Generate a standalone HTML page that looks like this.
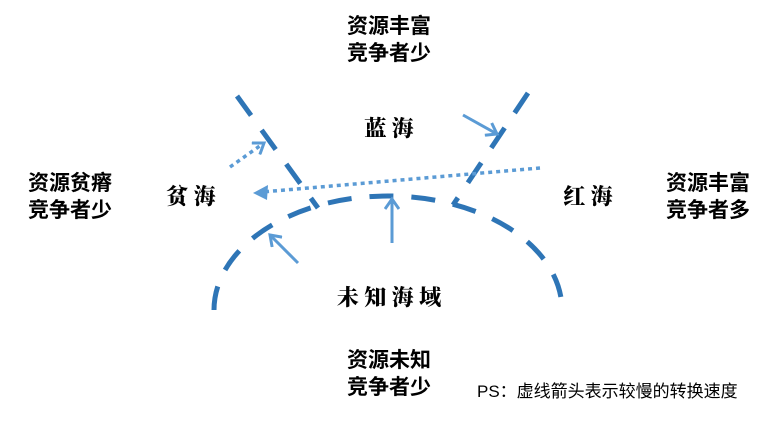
<!DOCTYPE html>
<html><head><meta charset="utf-8"><style>
html,body{margin:0;padding:0;background:#fff;}
body{width:780px;height:420px;overflow:hidden;}
svg text{font-family:"Liberation Sans","Noto Sans CJK SC",sans-serif;}
.b{font-weight:bold;font-size:21px;fill:#000;}
.s{font-family:"Noto Serif CJK SC",serif !important;font-weight:900;font-size:22px;fill:#000;}
</style></head><body>
<svg width="780" height="420" viewBox="0 0 780 420" xmlns="http://www.w3.org/2000/svg">
<defs>
<marker id="ah" markerWidth="16" markerHeight="16" refX="13" refY="8" orient="auto" markerUnits="userSpaceOnUse"><path d="M3,1 L13,8 L3,15" fill="none" stroke="#5b9bd5" stroke-width="3"/></marker>
</defs>
<g stroke="#2e75b6" stroke-width="5" fill="none" stroke-dasharray="24,18">
<path d="M237,96 L318,208"/>
<path d="M528,93 L453,205"/>
<path d="M214,310 A174,114 0 0 1 562,310"/>
</g>
<g stroke="#5b9bd5" stroke-width="3" fill="none">
<path d="M230,167 L264,143" stroke-dasharray="4,4" stroke-width="3.5" marker-end="url(#ah)"/>
<path d="M463,115 L497,134" marker-end="url(#ah)"/>
<path d="M540,168 L262,192" stroke-dasharray="4,4" stroke-width="3.5"/>
<path d="M392,243 L392,199" marker-end="url(#ah)"/>
<path d="M298,263 L270,235" marker-end="url(#ah)"/>
</g>
<path d="M253,193 L268,185 L267,200 Z" fill="#5b9bd5"/>
<text class="b" x="389" y="33" text-anchor="middle">资源丰富</text>
<text class="b" x="389" y="60" text-anchor="middle">竞争者少</text>
<text class="b" x="70" y="190" text-anchor="middle">资源贫瘠</text>
<text class="b" x="70" y="217" text-anchor="middle">竞争者少</text>
<text class="b" x="708" y="190" text-anchor="middle">资源丰富</text>
<text class="b" x="708" y="217" text-anchor="middle">竞争者多</text>
<text class="b" x="389" y="367" text-anchor="middle">资源未知</text>
<text class="b" x="389" y="394" text-anchor="middle">竞争者少</text>
<text class="s" x="389" y="136" text-anchor="middle">蓝 海</text>
<text class="s" x="191" y="204" text-anchor="middle">贫 海</text>
<text class="s" x="588" y="204" text-anchor="middle">红 海</text>
<text class="s" x="389" y="305" text-anchor="middle">未 知 海 域</text>
<text x="477" y="397" font-size="17" fill="#000">PS：虚线箭头表示较慢的转换速度</text>
</svg>
</body></html>
